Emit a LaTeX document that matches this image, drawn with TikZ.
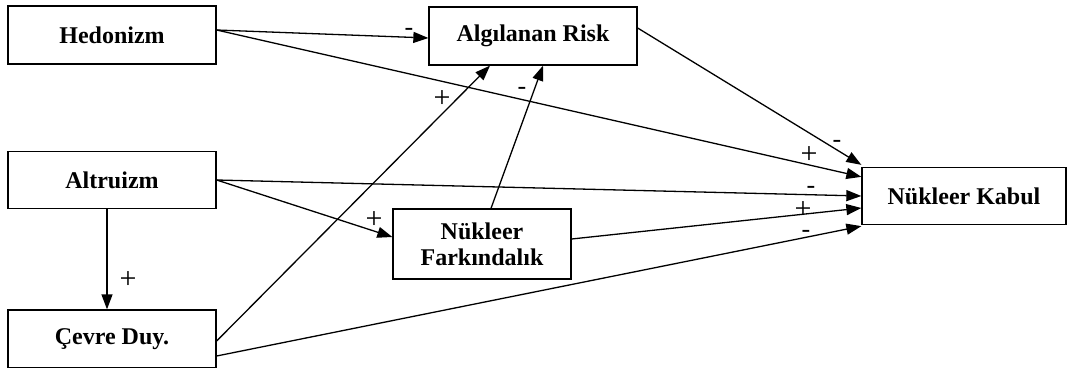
\documentclass[tikz,border=0pt]{standalone}
\usepackage{fontspec}
\setmainfont{Liberation Serif}
\usetikzlibrary{arrows.meta}

\begin{document}
\begin{tikzpicture}[x=100pt, y=100pt,
  box/.style={draw=black, line width=1.3pt, inner sep=0pt, align=center, font=\fontsize{24pt}{26pt}\selectfont\bfseries},
  pls/.style={inner sep=0pt, anchor=base, font=\fontsize{30pt}{32pt}\selectfont},
  mns/.style={inner sep=0pt, anchor=base, font=\fontsize{26pt}{28pt}\selectfont},
  arr/.style={draw=black, line width=1.3pt, -{Triangle[length=15pt, width=11pt]}}]
\useasboundingbox (0,0) rectangle (10.68,-3.67);
\node[box, minimum width=208pt, minimum height=58pt] (NHed) at (1.12,-0.35) {Hedonizm};
\node[box, minimum width=208pt, minimum height=58pt] (NRisk) at (5.33,-0.36) {Algılanan Risk};
\node[box, minimum width=208pt, minimum height=57pt] (NAlt) at (1.12,-1.80) {Altruizm};
\node[box, minimum width=178pt, minimum height=70pt] (NFark) at (4.82,-2.44) {Nükleer\\Farkındalık};
\node[box, minimum width=208pt, minimum height=58pt] (NCev) at (1.12,-3.39) {Çevre Duy.};
\node[box, minimum width=204pt, minimum height=57pt] (NKab) at (9.64,-1.96) {Nükleer Kabul};
\draw[arr] ([yshift=5pt]NHed.east) -- ([yshift=-2pt]NRisk.west);
\draw[arr] ([yshift=5pt]NHed.east) -- ([yshift=-10pt]NKab.north west);
\draw[arr] ([yshift=8pt]NRisk.east) -- ([yshift=2pt]NKab.north west);
\draw[arr] (NAlt.east) -- (NKab.west);
\draw[arr] ([yshift=5pt]NFark.east) -- ([yshift=-12pt]NKab.west);
\draw[arr] ([yshift=-17pt]NCev.east) -- ([yshift=-1pt]NKab.south west);
\draw[arr] (NAlt.east) -- ([yshift=7pt]NFark.west);
\draw[arr] ([xshift=-5pt]NAlt.south) -- ([xshift=-5pt]NCev.north);
\draw[arr] ([yshift=-2pt]NCev.east) -- ([xshift=-43pt]NRisk.south);
\draw[arr] ([xshift=9pt]NFark.north) -- ([xshift=10pt]NRisk.south);
\node[mns] (LHedRisk) at (4.09,-0.35) {-};
\node[pls] (LCevRisk) at (4.42,-1.075) {+};
\node[mns] (LFarkRisk) at (5.22,-0.94) {-};
\node[mns] (LRiskKab) at (8.37,-1.47) {-};
\node[pls] (LHedKab) at (8.09,-1.635) {+};
\node[mns] (LAltKab) at (8.11,-1.93) {-};
\node[pls] (LFarkKab) at (8.03,-2.18) {+};
\node[mns] (LCevKab) at (8.06,-2.37) {-};
\node[pls] (LAltFark) at (3.74,-2.285) {+};
\node[pls] (LAltCev) at (1.28,-2.885) {+};
\end{tikzpicture}
\end{document}
